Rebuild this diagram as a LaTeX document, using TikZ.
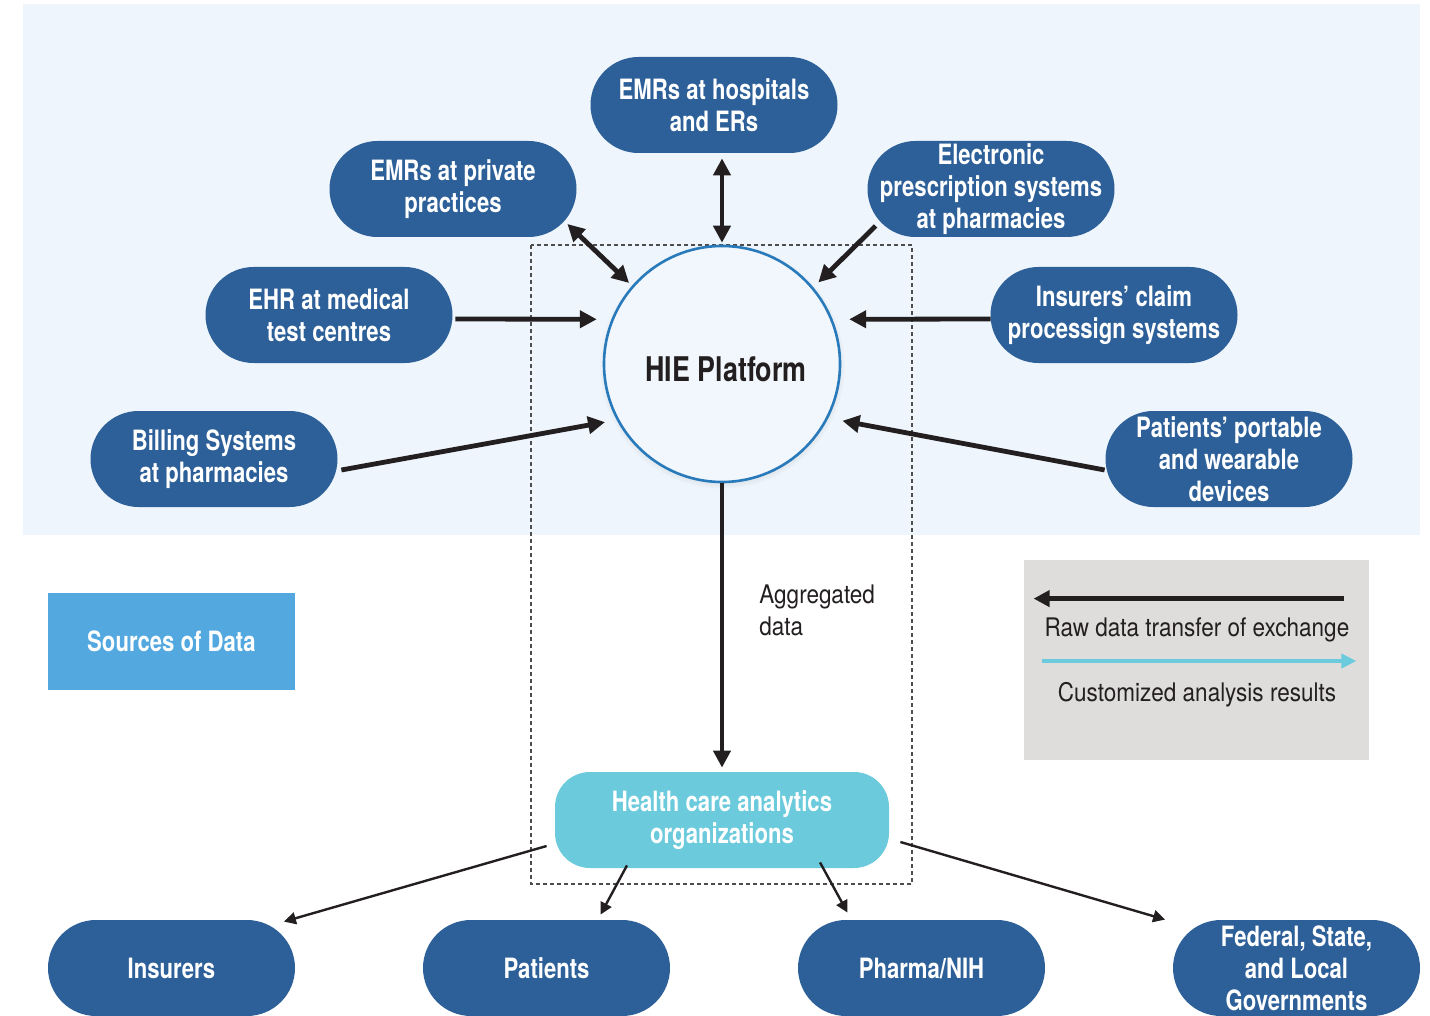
\documentclass[tikz,border=0pt]{standalone}
\usepackage{fontspec}
\setmainfont{TeX Gyre Heros}
\newfontfamily\condbold{TeX Gyre Heros}[FakeStretch=0.79]
\newfontfamily\condreg{TeX Gyre Heros}[FakeStretch=0.88]
\usetikzlibrary{arrows.meta, positioning, calc, shadows}
\definecolor{panel}{RGB}{238,245,252}
\definecolor{srcblue}{RGB}{45,96,152}
\definecolor{hcacyan}{RGB}{107,203,220}
\definecolor{keyblue}{RGB}{82,168,223}
\definecolor{keygrey}{RGB}{222,221,220}
\definecolor{ringblue}{RGB}{40,122,187}
\definecolor{hiefill}{RGB}{241,247,253}
\definecolor{inkblack}{RGB}{35,31,32}

\begin{document}
\begin{tikzpicture}[x=0.5pt,y=-0.5pt,
  source/.style={rectangle, rounded corners=24pt, fill=srcblue, text=white, minimum width=123.5pt, minimum height=48pt, inner sep=1pt, align=center, font=\condbold\bfseries\fontsize{14}{16}\selectfont},
  user/.style={source},
  feed/.style={draw=inkblack, line width=2.4pt, -{Triangle[length=8.5pt,width=8.5pt]}},
  both/.style={feed, {Triangle[length=8.5pt,width=8.5pt]}-{Triangle[length=8.5pt,width=8.5pt]}},
  deliver/.style={draw=inkblack, line width=1.2pt, -{Triangle[length=6pt,width=6pt]}},
  keytext/.style={font=\condreg\fontsize{12.8}{16}\selectfont, text=inkblack, inner sep=0pt}
]
        \useasboundingbox (0,0) rectangle (1430,1016);
        % panel of the data sources
        \fill[panel] (23,4) rectangle (1420,535);
        \draw[inkblack!80, line width=0.7pt, dash pattern=on 2pt off 1.5pt] (531,245) rectangle (912,884);

        \node[source] (hosp) at (714,105) {EMRs at hospitals\\and ERs};
        \node[source] (priv) at (453,189) {EMRs at private\\practices};
        \node[source] (elec) at (991,189) {Electronic\\prescription systems\\at pharmacies};
        \node[source] (ehr) at (329,315) {EHR at medical\\test centres};
        \node[source] (claims) at (1114,315) {Insurers’ claim\\processign systems};
        \node[source] (bill) at (214,459) {Billing Systems\\at pharmacies};
        \node[source] (dev) at (1229,459) {Patients’ portable\\and wearable\\devices};

        \node[circle, fill=hiefill, draw=ringblue, line width=1.3pt, minimum size=118pt, inner sep=0pt,
              circular drop shadow={shadow xshift=0pt, shadow yshift=-1pt, shadow scale=1.04, opacity=0.35},
              label={[text=inkblack, xshift=2pt, yshift=-2.5pt, font=\condbold\bfseries\fontsize{17}{19}\selectfont]center:HIE Platform}] (hie) at (722,364) {};

        \node[rectangle, rounded corners=17.5pt, fill=hcacyan, text=white, minimum width=167pt, minimum height=48pt,
              align=center, font=\condbold\bfseries\fontsize{14}{16}\selectfont] (hca) at (722,820) {Health care analytics\\organizations};

        \node[user] (insurers) at (171.5,968) {Insurers};
        \node[user] (patients) at (546.5,968) {Patients};
        \node[user] (pharma) at (921.5,968) {Pharma/NIH};
        \node[user] (govt) at (1296.5,968) {Federal, State,\\and Local\\Governments};

        % key
        \node[rectangle, fill=keyblue, text=white, minimum width=123.5pt, minimum height=48.5pt,
              font=\condbold\bfseries\fontsize{14}{16}\selectfont] (sources) at (171.5,641.5) {Sources of Data};
        \node[rectangle, fill=keygrey, minimum width=172.5pt, minimum height=100pt] (legend) at (1196.5,660) {};
        \node[keytext, anchor=base] (rawtxt) at (1197,636) {Raw data transfer of exchange};
        \node[keytext, anchor=base] (anatxt) at (1197,701) {Customized analysis results};
        \node[keytext, anchor=north west, align=left] (aggr) at (759,584) {Aggregated\\data};

        \coordinate (rawR) at ($(legend.north east)+(-25,39)$);
        \coordinate (rawL) at ($(legend.north west)+(10,39)$);
        \coordinate (anaL) at ($(legend.west)+(18,1)$);
        \coordinate (anaR) at ($(legend.east)+(-13,1)$);
        \draw[inkblack, line width=2.5pt, -{Triangle[length=8pt,width=8pt]}] (rawR) -- (rawL);
        \draw[hcacyan, line width=2pt, -{Triangle[length=7.5pt,width=7pt]}] (anaL) -- (anaR);

        % raw data into the platform
        \draw[both, shorten <=2.5pt, shorten >=1pt] (hie.north |- hosp.south) -- (hie.north);
        \draw[both, shorten >=2pt] ($(priv.east)+(-9.5,35)$) -- (hie.139);
        \draw[feed, shorten >=3.5pt] ($(elec.west)+(8.5,37)$) -- (hie.40);
        \draw[feed, shorten >=7.3pt] ($(ehr.east)+(2.5,4)$) -- (hie.158);
        \draw[feed, shorten >=8.3pt] ($(claims.west)+(0.5,4)$) -- (hie.22);
        \draw[feed, shorten >=5.9pt] ($(bill.east)+(3.5,11)$) -- (hie.208);
        \draw[feed, shorten >=7.2pt] ($(dev.west)+(-0.5,11)$) -- (hie.333);
        \draw[feed, shorten >=2pt] (hie.south) -- (hie.south |- hca.north);

        % results to the users
        \draw[deliver] ($(hca.west)+(-8,26)$) -- ($(insurers.north east)+(-11.5,2)$);
        \draw[deliver] ($(hca.south)+(-95,-3)$) -- ($(patients.north)+(54,-5)$);
        \draw[deliver] ($(hca.south)+(98,-6)$) -- ($(pharma.north)+(-74,-7)$);
        \draw[deliver] ($(hca.east)+(11,22)$) -- ($(govt.north west)+(-7.5,0)$);
\end{tikzpicture}
\end{document}
